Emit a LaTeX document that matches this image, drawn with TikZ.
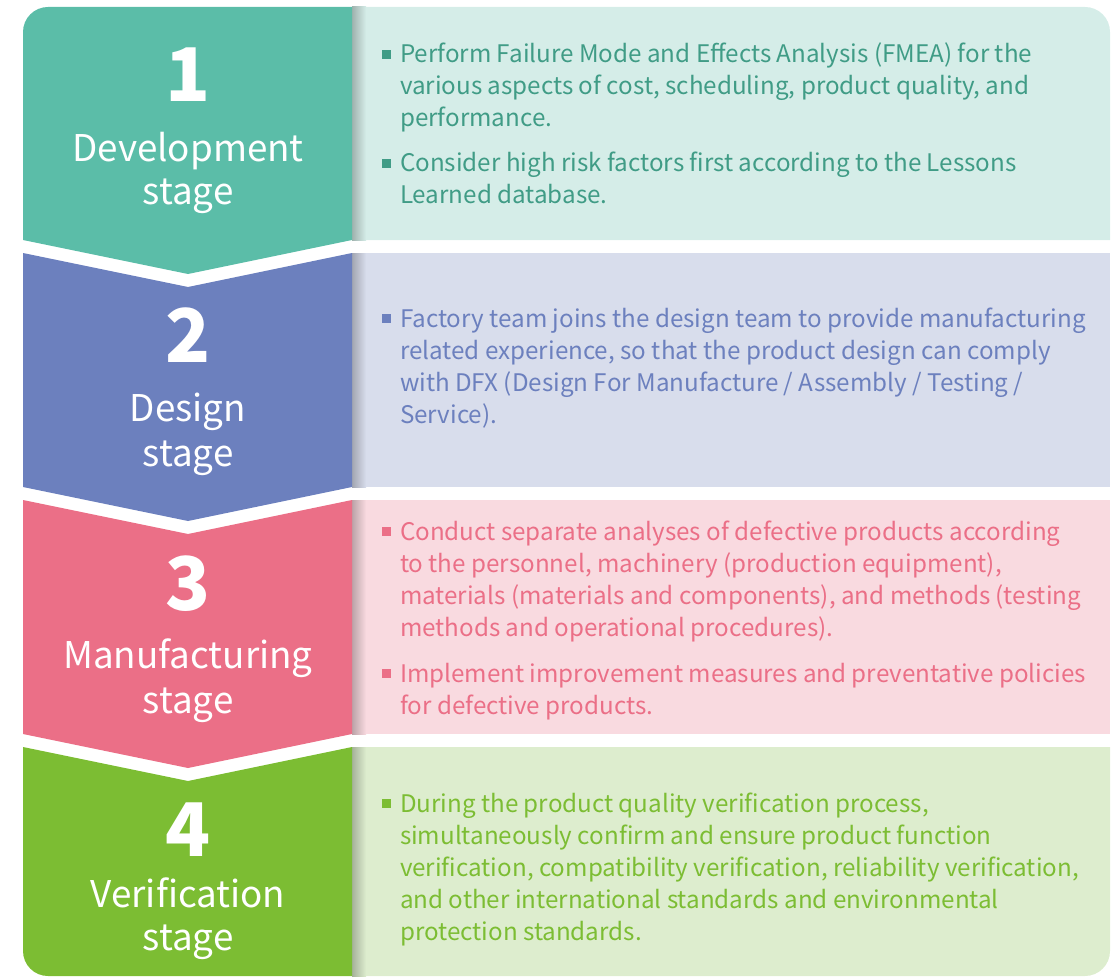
\documentclass[tikz,border=0pt]{standalone}
\usepackage{fontspec}
\setmainfont{Noto Sans CJK SC}
\usepackage{tikz}
\definecolor{tealA}{HTML}{5BBDA8}
\definecolor{tealB}{HTML}{D5EDE8}
\definecolor{tealC}{HTML}{409C86}
\definecolor{blueA}{HTML}{6C80BE}
\definecolor{blueB}{HTML}{D8DDEC}
\definecolor{pinkA}{HTML}{EB6F87}
\definecolor{pinkB}{HTML}{F9DAE0}
\definecolor{greenA}{HTML}{7CBD33}
\definecolor{greenB}{HTML}{DDEDCE}

\begin{document}
\begin{tikzpicture}[x=1pt, y=-1pt, every node/.style={inner sep=0pt, outer sep=0pt},
  num/.style={anchor=base, text=white, font=\fontsize{74}{74}\selectfont\bfseries},
  stage/.style={anchor=base, text=white, font=\fontsize{36.8}{44}\selectfont},
  item/.style={anchor=base west, align=left, font=\fontsize{24.2}{32}\selectfont},
  sq/.style={minimum size=9.5pt}]
\useasboundingbox (0,0) rectangle (1115,976);
% panels
\fill[tealB] (352,7) -- (1085,7) arc[start angle=-90, end angle=0, radius=25] -- (1110,240) -- (352,240) -- cycle;
\fill[blueB] (352,253) rectangle (1110,487);
\fill[pinkB] (352,500) rectangle (1110,734);
\fill[greenB] (352,747) -- (1110,747) -- (1110,951) arc[start angle=0, end angle=90, radius=25] -- (352,976) -- cycle;
\shade[left color=tealB!75!black, right color=tealB] (352,7) rectangle (366,240);
\shade[left color=blueB!75!black, right color=blueB] (352,253) rectangle (366,487);
\shade[left color=pinkB!75!black, right color=pinkB] (352,500) rectangle (366,734);
\shade[left color=greenB!75!black, right color=greenB] (352,747) rectangle (366,976);
% stages
\fill[tealA] (23,240) -- (23,32) arc[start angle=180, end angle=270, radius=25] -- (352,7) -- (352,240) -- (188,274) -- cycle;
\fill[blueA] (23,253) -- (188,287) -- (352,253) -- (352,487) -- (188,521) -- (23,487) -- cycle;
\fill[pinkA] (23,500) -- (188,534) -- (352,500) -- (352,734) -- (188,768) -- (23,734) -- cycle;
\fill[greenA] (23,747) -- (188,781) -- (352,747) -- (352,976) -- (48,976) arc[start angle=90, end angle=180, radius=25] -- cycle;
\node[num] (n1) at (188,102) {1};
\node[stage] (a1) at (188,162) {Development};
\node[stage] (b1) at (188,205) {stage};
\node[num] (n2) at (188,362) {2};
\node[stage] (a2) at (188,421) {Design};
\node[stage] (b2) at (188,466) {stage};
\node[num] (n3) at (188,610) {3};
\node[stage] (a3) at (188,668) {Manufacturing};
\node[stage] (b3) at (188,713) {stage};
\node[num] (n4) at (188,856) {4};
\node[stage] (a4) at (188,907) {Verification};
\node[stage] (b4) at (188,950) {stage};
% items, placed at the baseline of their last line
\node[sq, fill=tealC] (s1) at (386.5,54.5) {};
\node[item, text=tealC] (t1) at (400,127) {Perform Failure Mode and Effects Analysis (FMEA) for the\\various aspects of cost, scheduling, product quality, and\\performance.};
\node[sq, fill=tealC] (s2) at (386.5,163.5) {};
\node[item, text=tealC] (t2) at (400,204) {Consider high risk factors first according to the Lessons\\Learned database.};
\node[sq, fill=blueA] (s3) at (386.5,318.5) {};
\node[item, text=blueA] (t3) at (400,423) {Factory team joins the design team to provide manufacturing\\related experience, so that the product design can comply\\with DFX (Design For Manufacture / Assembly / Testing /\\Service).};
\node[sq, fill=pinkA] (s4) at (386.5,531.5) {};
\node[item, text=pinkA] (t4) at (400,636) {Conduct separate analyses of defective products according\\to the personnel, machinery (production equipment),\\materials (materials and components), and methods (testing\\methods and operational procedures).};
\node[sq, fill=pinkA] (s5) at (386.5,673.5) {};
\node[item, text=pinkA] (t5) at (400,714) {Implement improvement measures and preventative policies\\for defective products.};
\node[sq, fill=greenA] (s6) at (386.5,803.5) {};
\node[item, text=greenA] (t6) at (400,940) {During the product quality verification process,\\simultaneously confirm and ensure product function\\verification, compatibility verification, reliability verification,\\and other international standards and environmental\\protection standards.};
\end{tikzpicture}
\end{document}
